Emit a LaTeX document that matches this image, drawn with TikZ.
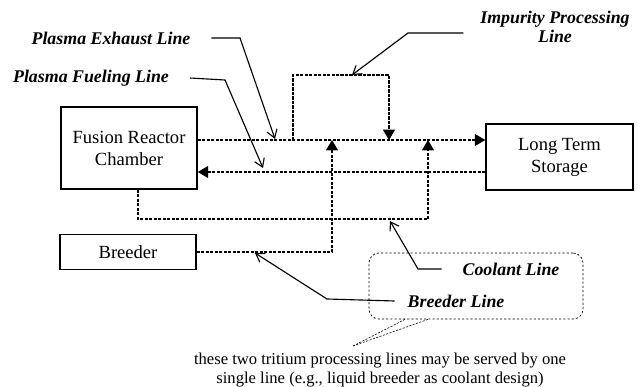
\documentclass[tikz,border=0pt]{standalone}
\usepackage{fontspec}
\setmainfont{Liberation Serif}
\usetikzlibrary{arrows.meta,positioning}

\tikzset{
  unit/.style={draw, line width=1.1pt, inner sep=0pt, align=center,
    font=\fontsize{13.2}{15.6}\selectfont},
  tline/.style={line width=0.8pt, dash pattern=on 2.2pt off 1pt},
  feed/.style={tline, -{Triangle[length=2.6mm,width=3mm]}},
  lead/.style={line width=0.8pt, -{Straight Barb[length=2mm,width=2.6mm]}},
  lab/.style={font=\bfseries\itshape\fontsize{12.7}{13.5}\selectfont, align=center},
}

\begin{document}
\begin{tikzpicture}[x=0.025cm,y=-0.025cm]
\useasboundingbox (0,0) rectangle (638,387);

% Units
\node[unit, minimum width=3.4cm, minimum height=2.05cm] (frc) at (129,148) {Fusion Reactor\\Chamber};
\node[unit, minimum width=3.675cm, minimum height=1.65cm] (lts) at (559.5,157) {Long Term\\Storage};
\node[unit, minimum width=3.4cm, minimum height=0.875cm] (breeder) at (128,252) {Breeder};

% Line levels
\coordinate (exh) at (0,140);
\coordinate (fue) at (0,172);
\coordinate (impL) at (293,140);
\coordinate (impR) at (389,140);
\coordinate (brX) at (332,140);
\coordinate (cooX) at (428,140);

% Exhaust and fueling
\draw[feed] (frc.east |- exh) -- (lts.west |- exh);
\draw[feed] (lts.west |- fue) -- (frc.east |- fue);

% Impurity loop
\draw[feed] (impL) |- (389,75) -- (impR);

% Coolant and breeder
\draw[feed] ([xshift=0.225cm]frc.south) |- (428,219) -- (cooX);
\draw[feed] (breeder.east) -| (brX);

% Labels
\node[lab] (pel) at (111,38) {Plasma Exhaust Line};
\node[lab] (pfl) at (91,78) {Plasma Fueling Line};
\node[lab] (ipl) at (555,27) {Impurity Processing\\Line};
\node[lab] (col) at (511,269) {Coolant Line};
\node[lab] (brl) at (456,301) {Breeder Line};

% Leaders
\draw[lead] ([xshift=0.4cm]pel.east) -- (240,38) -- (275,139);
\draw[lead] ([xshift=0.4cm]pfl.east) -- (225,80) -- (263,168);
\draw[lead] ([xshift=-0.3cm]ipl.west |- 0,33) -- (408,33) -- (352,75);
\draw[lead] ([xshift=-0.4cm]col.west) -- (418,269) -- (390,221);
\draw[lead] ([xshift=-0.2cm]brl.west) -- (327,299) -- (255,253);

% Shared line note
\node[draw, line width=0.5pt, dash pattern=on 1.5pt off 1.5pt, rounded corners=0.25cm,
  minimum width=5.35cm, minimum height=1.65cm] (grp) at (476,286) {};
\node[font=\fontsize{11.8}{13.5}\selectfont, align=center] (note) at (380,370)
  {these two tritium processing lines may be served by one\\single line (e.g., liquid breeder as coolant design)};
\coordinate (nt) at (353,346);
\draw[line width=0.4pt, dash pattern=on 1.5pt off 1pt] (nt) -- (grp.south -| 405,0);
\draw[line width=0.4pt, dash pattern=on 1.5pt off 1pt] (nt) -- (grp.south -| 428,0);
\end{tikzpicture}
\end{document}
